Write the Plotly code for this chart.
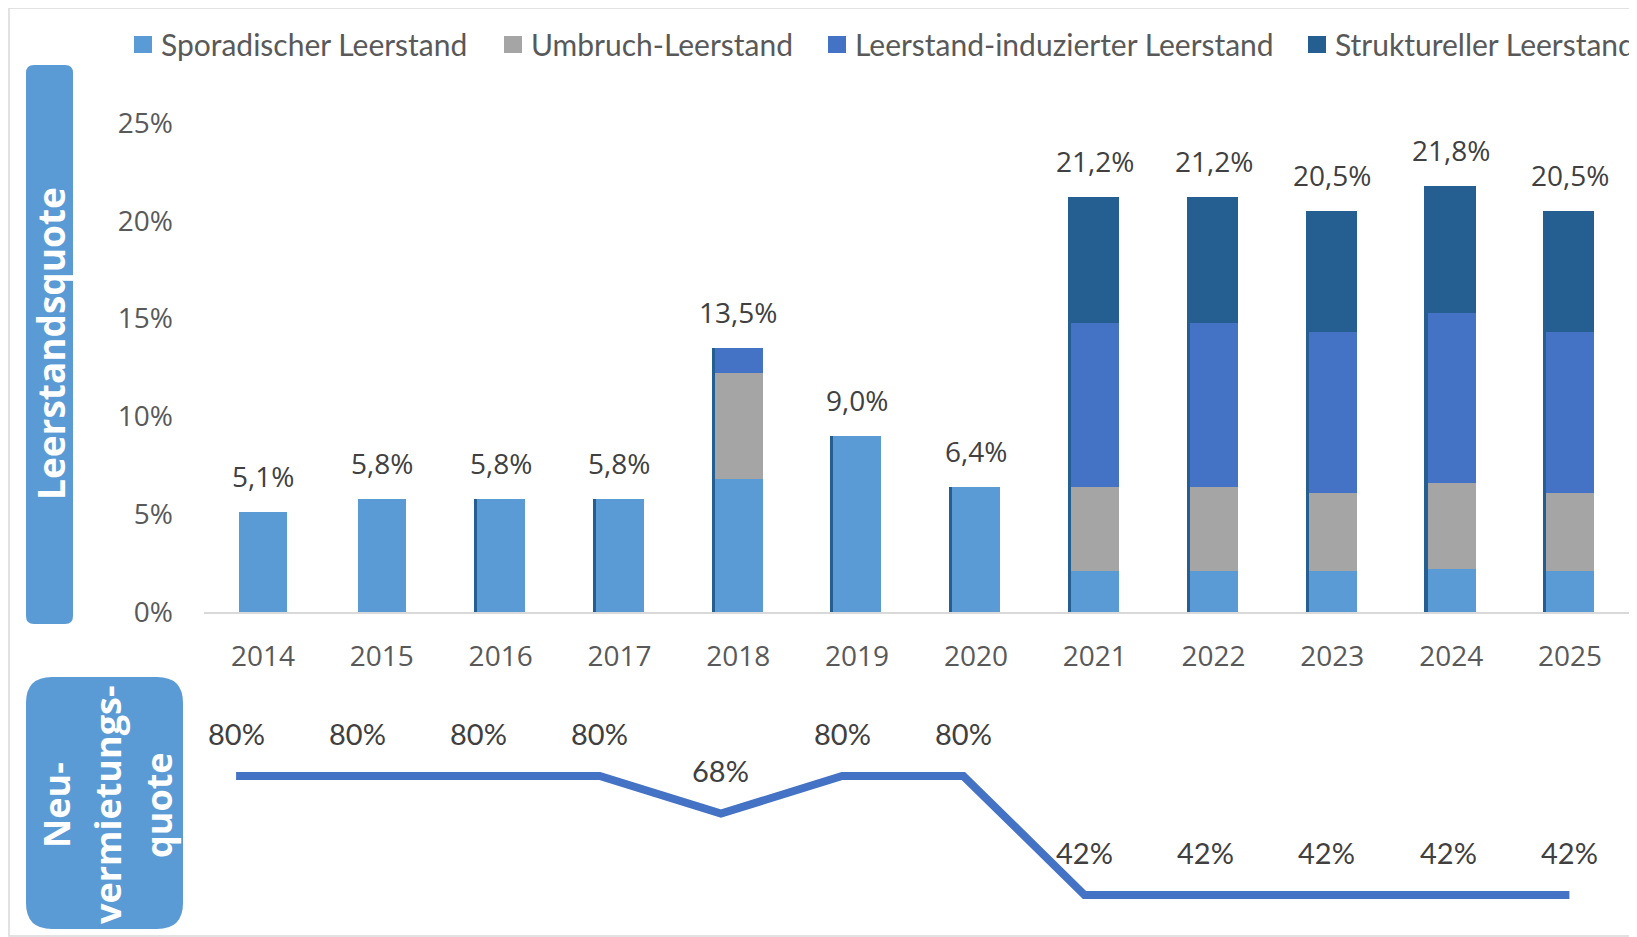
import plotly.graph_objects as go

# ---------------- data ----------------
years = ["2014", "2015", "2016", "2017", "2018", "2019", "2020",
         "2021", "2022", "2023", "2024", "2025"]
sporadisch = [5.1, 5.8, 5.8, 5.8, 6.8, 9.0, 6.4, 2.1, 2.1, 2.1, 2.2, 2.1]
umbruch = [0, 0, 0, 0, 5.4, 0, 0, 4.3, 4.3, 4.0, 4.4, 4.0]
induziert = [0, 0, 0, 0, 1.3, 0, 0, 8.4, 8.4, 8.2, 8.7, 8.2]
strukturell = [0, 0, 0, 0, 0, 0, 0, 6.4, 6.4, 6.2, 6.5, 6.2]
has_edge = [False, False, True, True, True, True, True, True, True, True, True, True]
neuvermietung = [80, 80, 80, 80, 68, 80, 80, 42, 42, 42, 42, 42]
y_ticks = [0, 5, 10, 15, 20, 25]
y_ticktext = ["0%", "5%", "10%", "15%", "20%", "25%"]

series_names = ["Sporadischer Leerstand", "Umbruch-Leerstand",
                "Leerstand-induzierter Leerstand", "Struktureller Leerstand"]
series_vals = [sporadisch, umbruch, induziert, strukturell]
series_cols = ["#5B9BD5", "#A5A5A5", "#4472C4", "#255E91"]

W, H = 1637, 937
OX, OY = 8, 8  # page body margin


def px(x):
    return (x - OX) / W


def py(y):
    return 1 - (y - OY) / H


totals = [round(sum(v[i] for v in series_vals), 1) for i in range(len(years))]

fig = go.Figure()

BW = 0.404
# dark edge behind bars
fig.add_trace(go.Bar(
    x=years, y=[t if e else None for t, e in zip(totals, has_edge)],
    base=0, width=BW, offset=-BW / 2 - 0.026,
    marker=dict(color="#255E91", line=dict(width=0)),
    showlegend=False, hoverinfo="skip"))

base = [0.0] * len(years)
for name, vals, col in zip(series_names, series_vals, series_cols):
    fig.add_trace(go.Bar(
        x=years, y=vals, base=list(base), width=BW, offset=-BW / 2,
        name=name, marker=dict(color=col, line=dict(width=0)),
        showlegend=False))
    base = [b + v for b, v in zip(base, vals)]

# line
fig.add_trace(go.Scatter(
    x=years, y=neuvermietung, xaxis="x2", yaxis="y2", mode="lines",
    line=dict(color="#4472C4", width=8), showlegend=False))

annotations = []
for i, t in enumerate(totals):
    annotations.append(dict(
        x=i, y=t, xref="x", yref="y", text=f"{t:.1f}".replace(".", ",") + "%",
        showarrow=False, yshift=36,
        font=dict(family="Open Sans", size=28, color="#404040")))
for i, v in enumerate(neuvermietung):
    annotations.append(dict(
        x=i, y=v, xref="x2", yref="y2", text=f"{v}%",
        showarrow=False, yshift=43,
        font=dict(family="Lato", size=29, color="#404040")))

# legend (manual)
leg_sq = [134, 504, 828, 1308]
shapes = []
for x0, name, col in zip(leg_sq, series_names, series_cols):
    shapes.append(dict(type="rect", xref="paper", yref="paper",
                       x0=px(x0), x1=px(x0 + 18), y0=py(36), y1=py(53),
                       fillcolor=col, line=dict(width=0)))
    annotations.append(dict(x=px(x0 + 25), y=py(44), xref="paper", yref="paper",
                            text=name, showarrow=False, xanchor="left", yanchor="middle",
                            font=dict(family="Lato", size=30, color="#595959")))


def rounded(x0, y0, x1, y1, r):
    rx, ry = r / W, r / H
    X0, X1 = px(x0), px(x1)
    Y0, Y1 = py(y0), py(y1)  # Y0 top, Y1 bottom
    return (f"M {X0+rx},{Y0} L {X1-rx},{Y0} Q {X1},{Y0} {X1},{Y0-ry} "
            f"L {X1},{Y1+ry} Q {X1},{Y1} {X1-rx},{Y1} L {X0+rx},{Y1} "
            f"Q {X0},{Y1} {X0},{Y1+ry} L {X0},{Y0-ry} Q {X0},{Y0} {X0+rx},{Y0} Z")


shapes.append(dict(type="path", xref="paper", yref="paper",
                   path=rounded(26, 65, 73, 624, 8), fillcolor="#5B9BD5", line=dict(width=0)))
shapes.append(dict(type="path", xref="paper", yref="paper",
                   path=rounded(26, 677, 183, 929, 26), fillcolor="#5B9BD5", line=dict(width=0)))
# outer frame
shapes.append(dict(type="rect", xref="paper", yref="paper",
                   x0=px(9), x1=px(1631), y0=py(936), y1=py(8),
                   line=dict(color="#D9D9D9", width=1.5), fillcolor="rgba(0,0,0,0)"))

annotations.append(dict(x=px(50), y=py(344), xref="paper", yref="paper",
                        xanchor="center", yanchor="middle",
                        text="<b>Leerstandsquote</b>", textangle=-90, showarrow=False,
                        font=dict(family="Open Sans", size=37, color="white")))
for xc, txt in zip([56, 107, 158], ["Neu-", "vermietungs-", "quote"]):
    annotations.append(dict(x=px(xc), y=py(805), xref="paper", yref="paper",
                            xanchor="center", yanchor="middle",
                            text=f"<b>{txt}</b>", textangle=-90, showarrow=False,
                            font=dict(family="Open Sans", size=36, color="white")))

tick_font = dict(family="Open Sans", size=28, color="#595959")
fig.update_layout(
    width=W, height=H, margin=dict(l=0, r=0, t=0, b=0, pad=0, autoexpand=False),
    paper_bgcolor="white", plot_bgcolor="white", showlegend=False,
    barmode="overlay", bargap=0,
    xaxis=dict(domain=[px(203.6), px(1629.4)], type="category",
               categoryorder="array", categoryarray=years, range=[-0.5, 11.5],
               showline=True, linecolor="#D9D9D9", linewidth=2,
               ticks="outside", ticklen=18, tickcolor="rgba(0,0,0,0)",
               showgrid=False, zeroline=False, tickfont=tick_font,
               automargin=False, anchor="y"),
    yaxis=dict(domain=[py(612), py(123)], range=[0, 25], tickmode="array",
               tickvals=y_ticks, ticktext=y_ticktext,
               showgrid=False, zeroline=False, showline=False,
               ticks="outside", ticklen=24, tickcolor="rgba(0,0,0,0)",
               tickfont=tick_font, automargin=False, anchor="x"),
    xaxis2=dict(domain=[px(175.5), px(1630)], type="category",
                categoryorder="array", categoryarray=years, range=[-0.5, 11.5],
                visible=False, anchor="y2"),
    yaxis2=dict(domain=[py(932.6), py(713.4)], range=[30, 100], visible=False,
                anchor="x2"),
    shapes=shapes, annotations=annotations,
)

fig.write_html("out.html")
